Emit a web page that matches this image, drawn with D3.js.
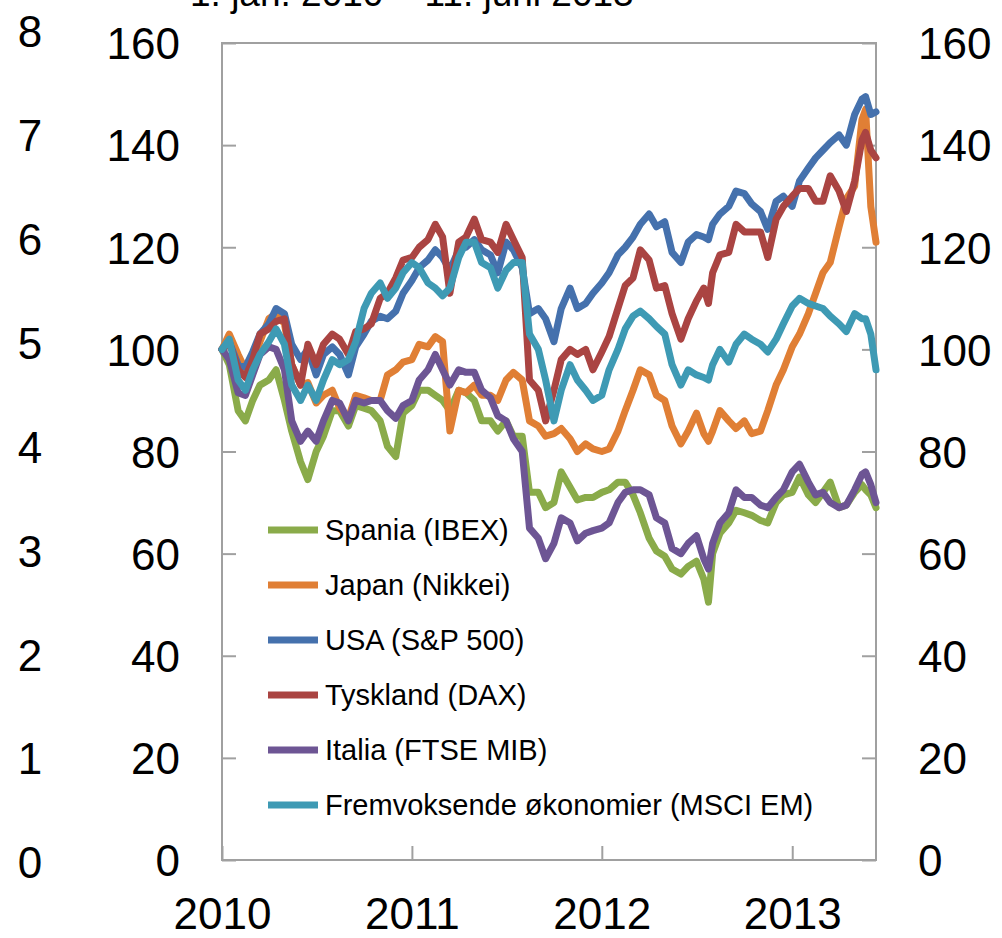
<!DOCTYPE html>
<html lang="no">
<head>
<meta charset="UTF-8">
<script src="https://d3js.org/d3.v7.min.js"></script>
<style>
    body {
        margin: 0;
        background-color: #ffffff;
    }
    #viz {
        display: block;
        font-family: "Liberation Sans", Arial, sans-serif;
    }
    .axis text {
        fill: #000000;
        font-size: 44px;
    }
    .axis line {
        stroke: #a0a0a0;
        stroke-width: 2px;
    }
    .legend text {
        font-size: 29px;
        fill: #000000;
    }
</style>
</head>
<body>
<svg id="viz" width="1002" height="938"></svg>
<script>
    // dates: 1st and 15th of each month, plus two turning points
    var dates = [
        "2010-01-01","2010-01-15","2010-02-01","2010-02-15","2010-03-01","2010-03-15","2010-04-01","2010-04-15",
        "2010-05-01","2010-05-15","2010-06-01","2010-06-15","2010-07-01","2010-07-15","2010-08-01","2010-08-15",
        "2010-09-01","2010-09-15","2010-10-01","2010-10-15","2010-11-01","2010-11-15","2010-12-01","2010-12-15",
        "2011-01-01","2011-01-15","2011-02-01","2011-02-15","2011-03-01","2011-03-15","2011-04-01","2011-04-15",
        "2011-05-01","2011-05-15","2011-06-01","2011-06-15","2011-07-01","2011-07-15","2011-08-01","2011-08-15",
        "2011-09-01","2011-09-15","2011-10-01","2011-10-15","2011-11-01","2011-11-15","2011-12-01","2011-12-15",
        "2012-01-01","2012-01-15","2012-02-01","2012-02-15","2012-03-01","2012-03-15","2012-04-01","2012-04-15",
        "2012-05-01","2012-05-15","2012-06-01","2012-06-15","2012-07-01","2012-07-15","2012-07-24","2012-08-01",
        "2012-08-15","2012-09-01","2012-09-15","2012-10-01","2012-10-15","2012-11-01","2012-11-15","2012-12-01",
        "2012-12-15","2013-01-01","2013-01-15","2013-02-01","2013-02-15","2013-03-01","2013-03-15","2013-04-01",
        "2013-04-15","2013-05-01","2013-05-15","2013-05-22","2013-06-01","2013-06-11"
    ];

    var spania = [
        100, 97, 88, 86, 90, 93, 94, 96, 90, 84, 78, 74.5, 80, 83, 88, 88, 85, 89, 88.5, 88, 86, 81, 79, 87.5,
        89, 92, 92, 91, 90, 88, 92, 91.5, 90, 86, 86, 84, 86, 83, 83, 72, 72, 69, 70, 76, 73, 70.5, 71, 71,
        72, 72.5, 74, 74, 71.5, 68, 63, 60.5, 59.5, 57, 56, 57.5, 58.5, 55, 50.5, 60, 64, 66, 68.5, 68, 67.5, 66.5, 66, 70, 71.5,
        72, 75, 71.5, 70, 72, 74, 69, 69.5, 72, 73.5, 72.5, 71.5, 69
    ];
    var japan = [
        100, 103, 99, 96, 97.5, 101.5, 106, 107, 105, 97, 93, 93.5, 89.5, 91, 92, 88.5, 86.5, 91, 90.5, 90, 90, 95, 96, 97.5,
        98, 101, 100.5, 102.5, 101.5, 84, 92, 91.5, 93, 91, 91, 90, 94, 95.5, 94, 86, 85, 83, 83.5, 84.5, 82.5, 80, 81.5, 80.5,
        80, 80.5, 84, 88, 92, 96, 95, 91, 90, 85, 81.5, 84, 87.5, 83.5, 82, 84, 88, 86, 84.5, 86, 83.5, 84, 88, 93, 96,
        100.5, 103, 107, 111, 115, 117, 124, 129.5, 132, 145, 147, 128, 121
    ];
    var usa = [
        100, 101.5, 97, 96.5, 99.5, 103, 105, 108, 107, 101, 98, 100, 95, 99, 100.5, 99, 95, 100.5, 103, 105.5, 106.5, 106, 107.5, 111,
        113.5, 116, 117.5, 119.5, 118, 115.5, 119.5, 120, 121.5, 119.5, 118.5, 115, 121, 119.5, 116, 107, 108, 106, 101.5, 108, 112, 108, 109, 111,
        113, 115, 118.5, 120, 122, 124.5, 126.5, 124, 125, 119, 117, 121, 122.5, 122, 121.5, 124.5, 126.5, 128, 131, 130.5, 128.5, 127, 123.5, 129, 130,
        128, 133, 135.5, 137.5, 139, 140.5, 142, 140, 146, 149, 149.5, 146, 146.5
    ];
    var tyskland = [
        100, 101.5, 96, 94.5, 98, 103, 104, 105.5, 106, 97, 93, 101, 97, 101, 103, 102, 99, 103.5, 104, 105, 110, 111, 114, 117.5,
        118, 120, 121.5, 124.5, 122, 111, 121, 122, 125.5, 121.5, 121, 119, 124.5, 121.5, 118, 94, 92, 86, 92, 98, 100, 99, 100, 96,
        99.5, 102.5, 108, 112.5, 114, 119.5, 117.5, 112, 112.5, 107, 102, 106, 109.5, 112, 109, 115, 118.5, 119, 124.5, 123, 123, 123, 118, 125.5, 128,
        130, 131.5, 131.5, 129, 129, 134, 131, 127, 133, 141, 142.5, 139, 137.5
    ];
    var italia = [
        100, 98, 91.5, 91, 95, 99, 100.5, 100, 96, 86, 82, 84, 82, 86, 90, 89.5, 86, 90, 89.5, 90, 90, 88, 86.5, 89,
        90, 94, 96, 99, 96, 93, 96, 95.5, 95.5, 92, 90.5, 87, 86, 82.5, 80, 65, 63, 59, 62, 67, 66, 62.5, 64, 64.5,
        65, 66, 70, 72, 72.5, 72.5, 71.5, 67, 66, 61, 60, 62, 63.5, 59, 57, 62, 66, 68, 72.5, 71, 71, 69.5, 69, 71, 72.5,
        76, 77.5, 74, 71.5, 72, 70, 69, 69.5, 72.5, 75.5, 76, 73.5, 70
    ];
    var msciEm = [
        100, 102, 94, 92, 96, 99, 101.5, 104, 101, 93, 90, 93, 90, 94, 98, 97, 98, 101.5, 108, 111, 113, 110, 112, 115,
        117, 116, 113, 112, 110.5, 112, 118, 121, 121, 117, 116, 112, 115.5, 117, 117, 103, 100, 94, 86, 92, 97, 94, 92, 90,
        91, 96, 100, 104, 106.5, 107.5, 106, 104.5, 103, 97, 93, 96, 95, 94.5, 94, 97, 100, 97.5, 101, 103, 102, 101, 99.5, 102, 105,
        108.5, 110, 109, 108.5, 108, 106.5, 105, 103.5, 107, 106, 106, 103, 96
    ];

    var seriesNames = ["Spania (IBEX)", "Japan (Nikkei)", "USA (S&P 500)", "Tyskland (DAX)",
                       "Italia (FTSE MIB)", "Fremvoksende økonomier (MSCI EM)"];
    var seriesValues = [spania, japan, usa, tyskland, italia, msciEm];
    var seriesColors = ["#8aab4a", "#e07f35", "#4571ad", "#aa4442", "#6d5594", "#3e9ab4"];

    var yTicks = [0, 20, 40, 60, 80, 100, 120, 140, 160];
    var leftTicks = [0, 1, 2, 3, 4, 5, 6, 7, 8];
    var yearTicks = ["2010", "2011", "2012", "2013"];
    var subtitle = "1. jan. 2010 – 11. juni 2013";

    var svg = d3.select("#viz");
    var parseDate = d3.timeParse("%Y-%m-%d");

    var plot = {left: 222, right: 876, top: 43, bottom: 860};

    var x = d3.scaleTime()
        .domain([parseDate("2010-01-01"), parseDate("2013-06-11")])
        .range([plot.left, plot.right]);
    var y = d3.scaleLinear()
        .domain([0, 160])
        .range([plot.bottom, plot.top]);
    var yOuter = d3.scaleLinear()
        .domain([0, 8])
        .range([862, 31]);

    // subtitle, cut off at the very top as in the original
    svg.append("text")
        .attr("x", 190)
        .attr("y", 6)
        .attr("font-size", 37)
        .text(subtitle);

    // left axis 0-160
    var leftAxis = svg.append("g")
        .attr("class", "axis")
        .attr("transform", "translate(" + plot.left + ",0)")
        .call(d3.axisLeft(y).tickValues(yTicks).tickSize(-14).tickPadding(42));
    leftAxis.select(".domain").remove();
    leftAxis.selectAll("text").attr("dy", "0.36em");

    // right axis 0-160
    var rightAxis = svg.append("g")
        .attr("class", "axis")
        .attr("transform", "translate(" + plot.right + ",0)")
        .call(d3.axisRight(y).tickValues(yTicks).tickSize(-14).tickPadding(42));
    rightAxis.select(".domain").remove();
    rightAxis.selectAll("text").attr("dy", "0.36em");

    // outer left axis 0-8
    var outerAxis = svg.append("g")
        .attr("class", "axis")
        .attr("transform", "translate(30,0)")
        .call(d3.axisLeft(yOuter).tickValues(leftTicks).tickSize(0).tickPadding(0));
    outerAxis.select(".domain").remove();
    outerAxis.selectAll("text").attr("text-anchor", "middle").attr("dy", "0.36em");

    // bottom axis with years
    var bottomAxis = svg.append("g")
        .attr("class", "axis")
        .attr("transform", "translate(0," + plot.bottom + ")")
        .call(d3.axisBottom(x)
            .tickValues(yearTicks.map(function(d) { return parseDate(d + "-01-01"); }))
            .tickFormat(d3.timeFormat("%Y"))
            .tickSize(-14)
            .tickPadding(38));
    bottomAxis.select(".domain").remove();

    // frame
    svg.append("rect")
        .attr("x", plot.left)
        .attr("y", plot.top)
        .attr("width", plot.right - plot.left)
        .attr("height", plot.bottom - plot.top)
        .attr("fill", "none")
        .attr("stroke", "#a0a0a0")
        .attr("stroke-width", 2);

    var line = d3.line()
        .x(function(d) { return x(d.date); })
        .y(function(d) { return y(d.value); });

    var series = seriesValues.map(function(values, i) {
        return {
            name: seriesNames[i],
            color: seriesColors[i],
            points: values.map(function(v, j) { return {date: parseDate(dates[j]), value: v}; })
        };
    });

    svg.append("g")
        .selectAll("path")
        .data(series)
        .enter().append("path")
            .attr("d", function(d) { return line(d.points); })
            .attr("fill", "none")
            .attr("stroke", function(d) { return d.color; })
            .attr("stroke-width", 7)
            .attr("stroke-linejoin", "round")
            .attr("stroke-linecap", "round");

    var legend = svg.append("g")
        .attr("class", "legend")
        .selectAll("g")
        .data(series)
        .enter().append("g")
            .attr("transform", function(d, i) { return "translate(268," + (530 + i * 55) + ")"; });

    legend.append("line")
        .attr("x1", 0)
        .attr("x2", 50)
        .attr("stroke", function(d) { return d.color; })
        .attr("stroke-width", 7);

    legend.append("text")
        .attr("x", 57)
        .attr("dy", "0.36em")
        .text(function(d) { return d.name; });
</script>
</body>
</html>
